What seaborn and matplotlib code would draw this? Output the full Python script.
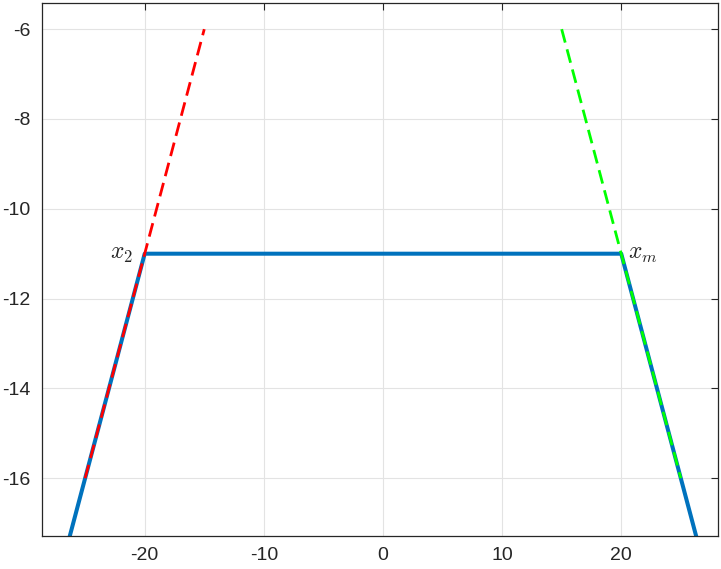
import numpy as np
import pandas as pd
import matplotlib
matplotlib.use("Agg")
import matplotlib.pyplot as plt
import seaborn as sns

# Data
blue_x = [-30, -20, 20, 30]
blue_y = [-21, -11, -11, -21]
red_x = [-25, -15]
red_y = [-16, -6]
green_x = [15, 25]
green_y = [-6, -16]
xticks = [-20, -10, 0, 10, 20]
yticks = [-16, -14, -12, -10, -8, -6]

sns.set_style("white")
plt.rcParams['font.family'] = ['Liberation Sans', 'DejaVu Sans']
plt.rcParams['mathtext.fontset'] = 'cm'
plt.rcParams['axes.unicode_minus'] = False

fig = plt.figure(figsize=(7.21, 5.69), dpi=100)
ax = fig.add_axes([0.0576, 0.0585, 0.9958 - 0.0576, 0.9953 - 0.0585])

blue = pd.DataFrame({"x": blue_x, "y": blue_y})
red = pd.DataFrame({"x": red_x, "y": red_y})
green = pd.DataFrame({"x": green_x, "y": green_y})

sns.lineplot(data=blue, x="x", y="y", sort=False, estimator=None, color="#0072BD", linewidth=2.9, ax=ax)
sns.lineplot(data=red, x="x", y="y", sort=False, estimator=None, color="#FF0000", linewidth=2.0,
             linestyle=(0, (5, 2.5)), ax=ax)
sns.lineplot(data=green, x="x", y="y", sort=False, estimator=None, color="#00FF00", linewidth=2.0,
             linestyle=(0, (5, 2.5)), ax=ax)

ax.text(-21, -11, r"$x_2$", fontsize=17, ha="right", va="center")
ax.text(20.6, -11, r"$x_m$", fontsize=17, ha="left", va="center")

ax.set_xlim(-28.66, 28.12)
ax.set_ylim(-17.28, -5.41)
ax.set_xticks(xticks)
ax.set_yticks(yticks)
ax.set_xlabel("")
ax.set_ylabel("")
ax.grid(True, color="#E3E3E3", linewidth=0.8)
ax.set_axisbelow(True)
ax.tick_params(direction="in", top=True, right=True, length=5, width=0.8, labelsize=14,
               colors="#262626", pad=8)
for spine in ax.spines.values():
    spine.set_color("#262626")
    spine.set_linewidth(0.9)

fig.savefig("out.png", dpi=100)
